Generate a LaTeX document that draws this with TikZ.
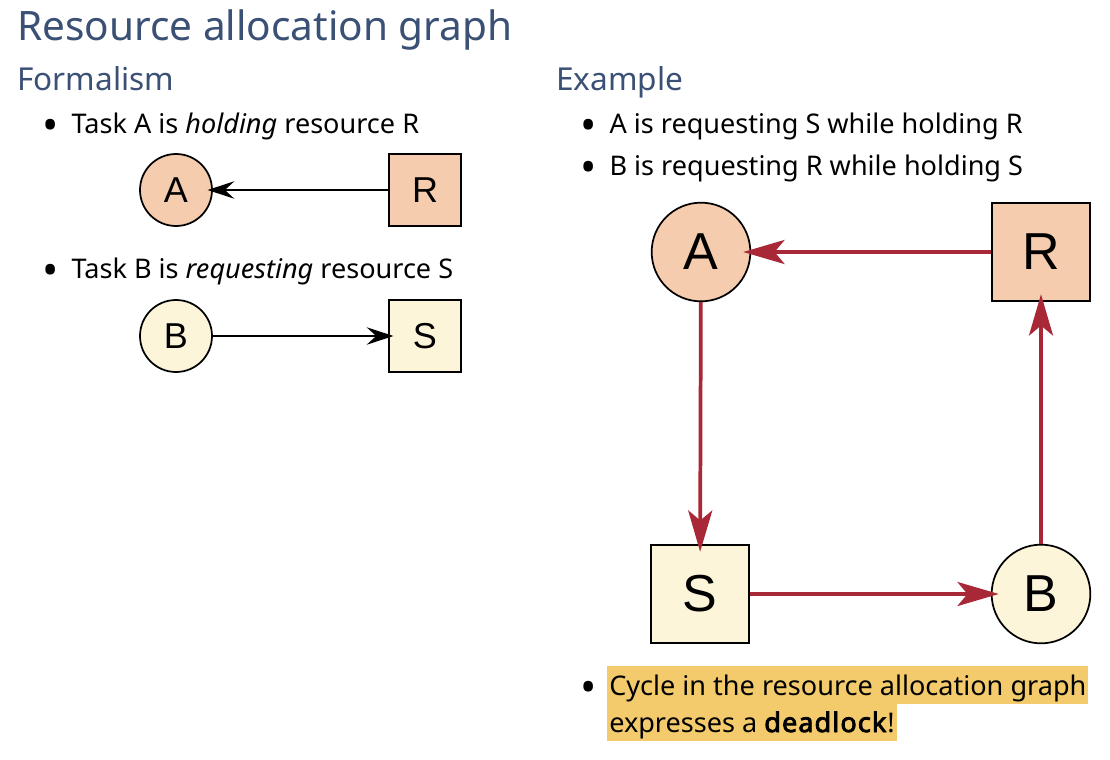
\documentclass[tikz,border=0pt]{standalone}
\usepackage{fontspec}
\setmainfont{Noto Sans}[BoldFont={Noto Sans}, BoldFeatures={FakeBold=3, LetterSpace=4}]
\newfontfamily\nodefont{Liberation Sans}
\usetikzlibrary{arrows.meta}

\definecolor{titleblue}{HTML}{3B5075}
\definecolor{peach}{HTML}{F5CCAD}
\definecolor{cream}{HTML}{FDF5DA}
\definecolor{cyclered}{HTML}{A82838}
\definecolor{marker}{HTML}{F3CB6C}

\newcommand{\bul}{\makebox[22pt][l]{\raisebox{-5.5pt}{\scalebox{1.6}{•}}}}

\begin{document}
\begin{tikzpicture}
    [
    x=0.75pt, y=-0.75pt,
    task/.style={circle, draw, line width=1.3pt, inner sep=0pt},
    res/.style={rectangle, draw, line width=1.3pt, inner sep=0pt},
    small/.style={minimum size=54pt, font=\nodefont\fontsize{27}{31}\selectfont},
    big/.style={minimum size=74pt, font=\nodefont\fontsize{39}{44}\selectfont},
    textline/.style={anchor=base west, inner sep=0pt, font=\fontsize{20.3}{24}\selectfont},
    heading/.style={anchor=base west, inner sep=0pt, text=titleblue, font=\fontsize{23.7}{28}\selectfont},
    marked/.style={textline, fill=marker, inner xsep=1.5pt, text depth=7pt, text height=22pt},
    plain edge/.style={draw, line width=2.1pt, shorten >=-4pt, -{Stealth[length=20pt, width=13pt, inset=7pt]}},
    cycle edge/.style={draw, cyclered, line width=2.8pt, shorten >=-6pt, -{Stealth[length=31pt, width=18pt, inset=7.5pt]}}
    ]
    \useasboundingbox (0,0) rectangle (1110,760);

    % headings
    \node[anchor=base west, inner sep=0pt, text=titleblue, font=\fontsize{30.4}{36}\selectfont] (title) at (17,40) {Resource allocation graph};
    \node[heading] (formalism) at (17,90) {Formalism};
    \node[heading] (example) at (556,90) {Example};

    % formalism
    \node[textline] (holdtext) at (42,133) {\bul Task A is \textit{holding} resource R};
    \node[task, small, fill=peach] (fa) at (176,190) {A};
    \node[res, small, fill=peach] (fr) at (425,190) {R};
    \path[plain edge] (fr) -- (fa);

    \node[textline] (reqtext) at (42,278) {\bul Task B is \textit{requesting} resource S};
    \node[task, small, fill=cream] (fb) at (176,336) {B};
    \node[res, small, fill=cream] (fs) at (425,336) {S};
    \path[plain edge] (fb) -- (fs);

    % example
    \node[textline] (exa) at (580,133) {\bul A is requesting S while holding R};
    \node[textline] (exb) at (580,175) {\bul B is requesting R while holding S};

    \node[task, big, fill=peach] (a) at (701,252) {A};
    \node[res, big, fill=peach] (r) at (1041,252) {R};
    \node[res, big, fill=cream] (s) at (700,594) {S};
    \node[task, big, fill=cream] (b) at (1041,594) {B};

    \path[cycle edge] (r) -- (a);
    \path[cycle edge] (a) -- (s);
    \path[cycle edge] (s) -- (b);
    \path[cycle edge] (b) -- (r);

    % conclusion
    \node[textline] (bul) at (580,695) {\bul};
    \node[marked] (cyc1) at (607,695) {Cycle in the resource allocation graph};
    \node[marked] (cyc2) at (607,732) {expresses a \textbf{deadlock}!};
\end{tikzpicture}
\end{document}
